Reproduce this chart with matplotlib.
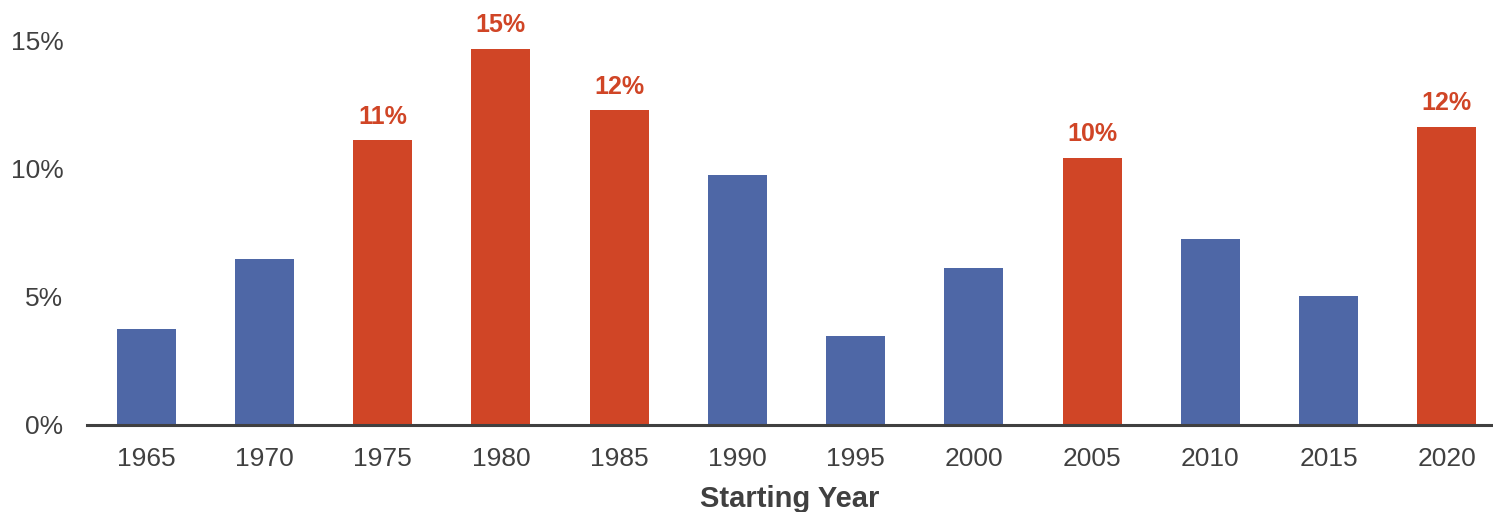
import matplotlib.pyplot as plt
from matplotlib.ticker import FuncFormatter

years = ["1965", "1970", "1975", "1980", "1985", "1990", "1995", "2000", "2005", "2010", "2015", "2020"]
values = [3.75, 6.48, 11.13, 14.69, 12.3, 9.77, 3.48, 6.13, 10.43, 7.27, 5.04, 11.64]
highlight = [False, False, True, True, True, False, False, False, True, False, False, True]

blue = "#4E67A6"
red = "#D04526"
grey = "#404040"

plt.rcParams['font.family'] = ['Liberation Sans', 'DejaVu Sans']

fig = plt.figure(figsize=(14.93, 5.12), dpi=100)
ax = fig.add_axes([0.0583, 0.170, 0.9417, 0.750])

x = range(len(years))
colors = [red if h else blue for h in highlight]
ax.bar(x, values, width=0.5, color=colors)

# labels only on the highlighted bars
for i, (v, h) in enumerate(zip(values, highlight)):
    if h:
        ax.text(i, v + 0.45, f"{round(v):.0f}%", ha="center", va="bottom",
                color=red, fontsize=18, fontweight="bold", clip_on=False)

ax.set_xlim(-0.5, 11.39)
ax.set_ylim(0, 15)
ax.set_yticks([0, 5, 10, 15])
ax.yaxis.set_major_formatter(FuncFormatter(lambda v, p: f"{v:.0f}%"))
ax.set_xticks(list(x))
ax.set_xticklabels(years)
ax.tick_params(axis="both", length=0, labelsize=19, colors=grey)
ax.tick_params(axis="x", pad=16)
ax.tick_params(axis="y", pad=17)

for s in ["top", "right", "left"]:
    ax.spines[s].set_visible(False)
ax.spines["bottom"].set_color(grey)
ax.spines["bottom"].set_linewidth(2.2)

ax.set_xlabel("Starting Year", fontsize=21, fontweight="bold", color=grey, labelpad=10)

fig.savefig("out.png", dpi=100)
